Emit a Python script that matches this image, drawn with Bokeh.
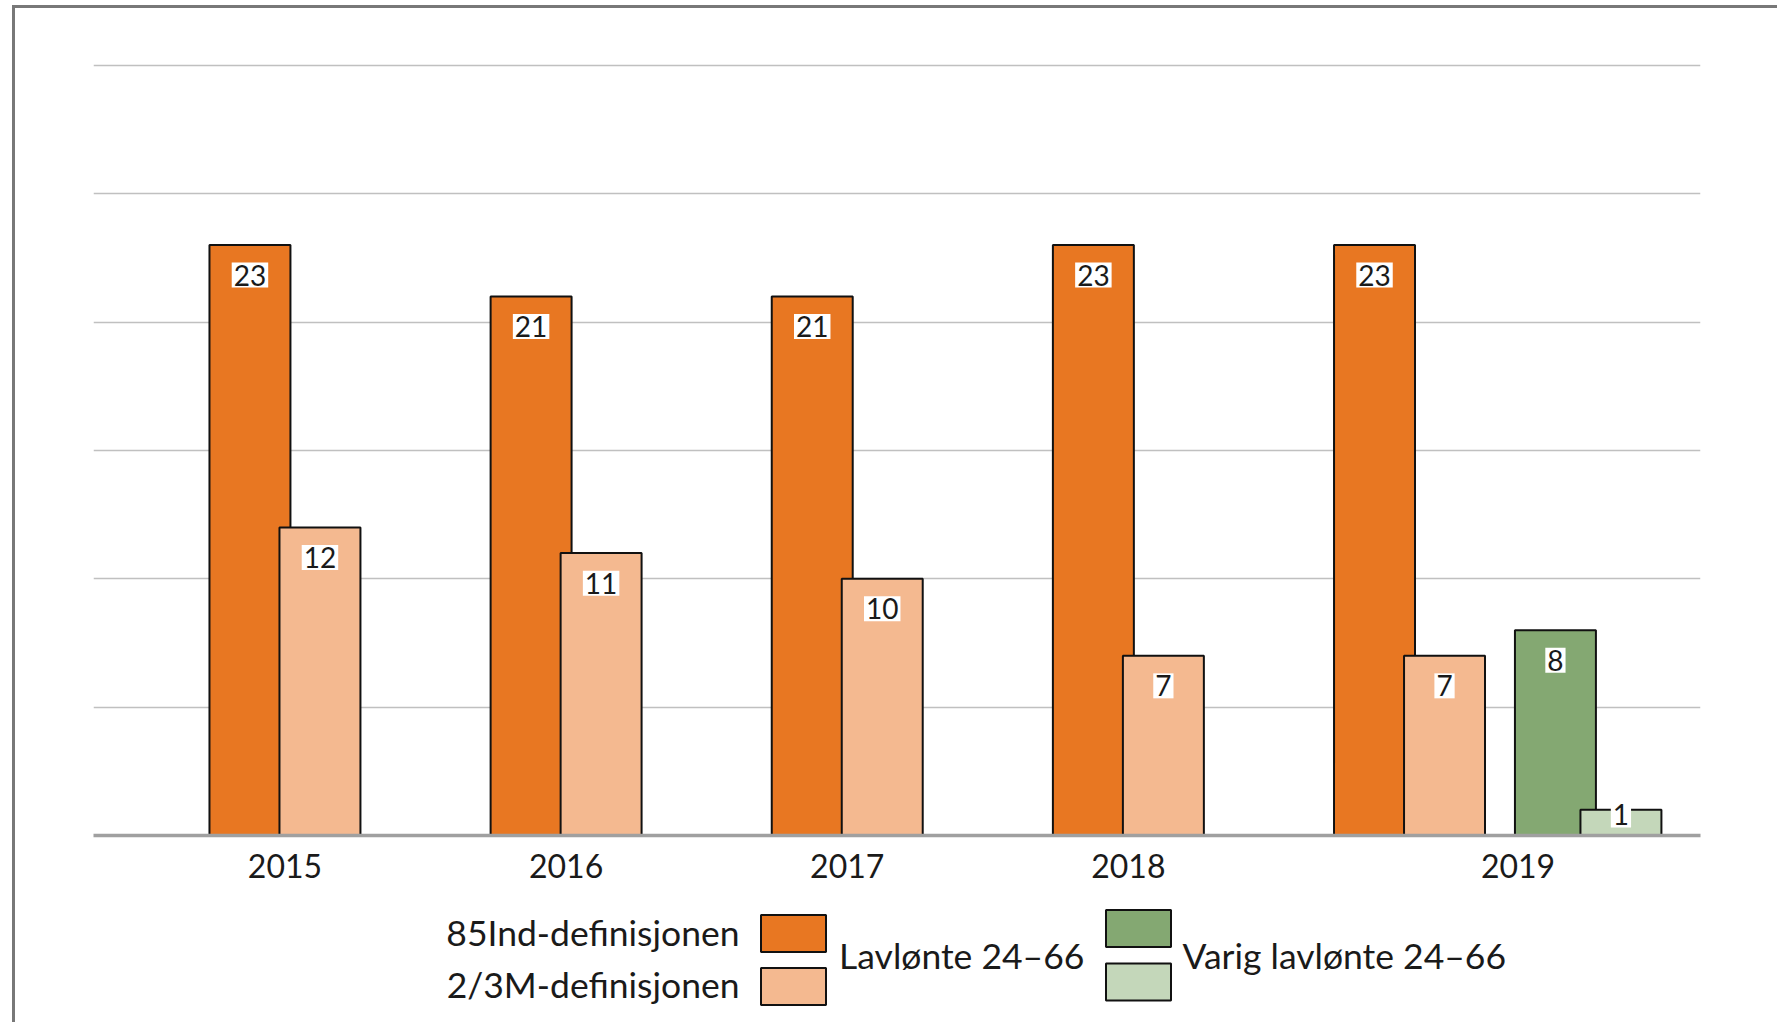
import numpy as np
from bokeh.plotting import figure
from bokeh.models import ColumnDataSource, Range1d, FixedTicker
from bokeh.layouts import column
from bokeh.core.properties import value
from bokeh.embed import file_html
from bokeh.resources import INLINE

# ---------------- data ----------------
years = ["2015", "2016", "2017", "2018", "2019"]
lavlonte_85ind = [23, 21, 21, 23, 23]
lavlonte_23m = [12, 11, 10, 7, 7]
varig_85ind = [None, None, None, None, 8]
varig_23m = [None, None, None, None, 1]

definitions = ["85Ind-definisjonen", "2/3M-definisjonen"]
groups = ["Lavlønte 24–66", "Varig lavlønte 24–66"]

# ---------------- style ----------------
FONT = "Lato"
C_OR = "#E87722"
C_LOR = "#F4B990"
C_GR = "#84A872"
C_LGR = "#C4D7BA"
TXT = "#1a1a1a"

BAR_W = 0.288
OFFSETS = [-0.1245, 0.1245, 0.519, 0.752]   # position of each series inside a year slot
LABEL_SHIFT_VARIG = 0.386                   # year label shift when the slot holds the varig bars

# page geometry (content starts at x=15, y=8 after margin + border)
W = 1762
H_MAIN = 887
H_LEG = 127
FRAME_L, FRAME_R = 93, 1700
BORDER_L = FRAME_L - 15
BORDER_R = W - BORDER_L - (FRAME_R - FRAME_L)
LEG_TOP = 8 + H_MAIN
LEG_BOT = LEG_TOP + H_LEG

p = figure(width=W, height=H_MAIN, output_backend="svg", toolbar_location=None,
           x_range=Range1d(-0.681, 5.035), y_range=Range1d(0, 30.15),
           min_border_left=BORDER_L, min_border_right=BORDER_R,
           min_border_top=53, min_border_bottom=60)
p.background_fill_color = "white"
p.border_fill_color = "white"
p.outline_line_color = None
p.xgrid.visible = False
p.yaxis.visible = False
p.ygrid.ticker = FixedTicker(ticks=[5, 10, 15, 20, 25, 30])
p.ygrid.grid_line_color = "#c0c0c0"
p.ygrid.grid_line_width = 1.5


def make_source(vals, off):
    idx = [i for i, v in enumerate(vals) if v is not None]
    tops = [vals[i] for i in idx]
    return ColumnDataSource(dict(
        x=[i + off for i in idx],
        top=tops,
        ly=[max(v - 1.17, v * 0.8) for v in tops],
        lbl=[str(v) for v in tops],
    ))


series = [(lavlonte_85ind, C_OR), (lavlonte_23m, C_LOR), (varig_85ind, C_GR), (varig_23m, C_LGR)]
sources = []
for (vals, col), off in zip(series, OFFSETS):
    s = make_source(vals, off)
    sources.append(s)
    p.vbar(x="x", top="top", bottom=0, width=BAR_W, source=s, fill_color=col,
           line_color="#111111", line_width=2)

for s in sources:
    p.text(x="x", y="ly", text="lbl", source=s, text_align="center", text_baseline="middle",
           text_font=value(FONT), text_font_size="28px", text_color=TXT,
           background_fill_color="white", padding=2)

# x axis: year labels
tick_pos = [i + (LABEL_SHIFT_VARIG if varig_85ind[i] is not None else 0.0) for i in range(len(years))]
p.xaxis.ticker = FixedTicker(ticks=tick_pos)
p.xaxis.major_label_overrides = {t: y for t, y in zip(tick_pos, years)}
p.xaxis.axis_line_color = "#a0a0a0"
p.xaxis.axis_line_width = 3.5
p.xaxis.major_tick_line_color = None
p.xaxis.minor_tick_line_color = None
p.xaxis.major_label_text_font = FONT
p.xaxis.major_label_text_font_size = "32px"
p.xaxis.major_label_text_color = TXT
p.xaxis.major_label_standoff = 12

# ---------------- legend (separate panel, page coordinates) ----------------
q = figure(width=W, height=H_LEG, output_backend="svg", toolbar_location=None,
           x_range=Range1d(FRAME_L, FRAME_R), y_range=Range1d(LEG_BOT, LEG_TOP),
           x_axis_location=None, y_axis_location=None,
           min_border_left=BORDER_L, min_border_right=BORDER_R,
           min_border_top=0, min_border_bottom=0)
q.background_fill_color = "white"
q.border_fill_color = "white"
q.outline_line_color = None
q.grid.visible = False

box_w, box_h = 65, 37
q.rect(x=[793, 793], y=[933, 986], width=box_w, height=box_h,
       fill_color=[C_OR, C_LOR], line_color="#111111", line_width=2)
q.rect(x=[1138, 1138], y=[928, 981.5], width=box_w, height=box_h,
       fill_color=[C_GR, C_LGR], line_color="#111111", line_width=2)
q.text(x=[739, 739], y=[931.6, 983.7], text=definitions, text_align="right", text_baseline="middle",
       text_font=value(FONT), text_font_size="35.5px", text_color=TXT)
q.text(x=[838.6, 1182], y=[955.4, 955.4], text=groups, text_align="left", text_baseline="middle",
       text_font=value(FONT), text_font_size="35.5px", text_color=TXT)

layout = column(p, q, spacing=0,
                styles={"margin-top": "5px", "margin-left": "12px",
                        "border-top": "3px solid #787878", "border-left": "3px solid #787878"})

open("out.html", "w").write(file_html(layout, INLINE))
